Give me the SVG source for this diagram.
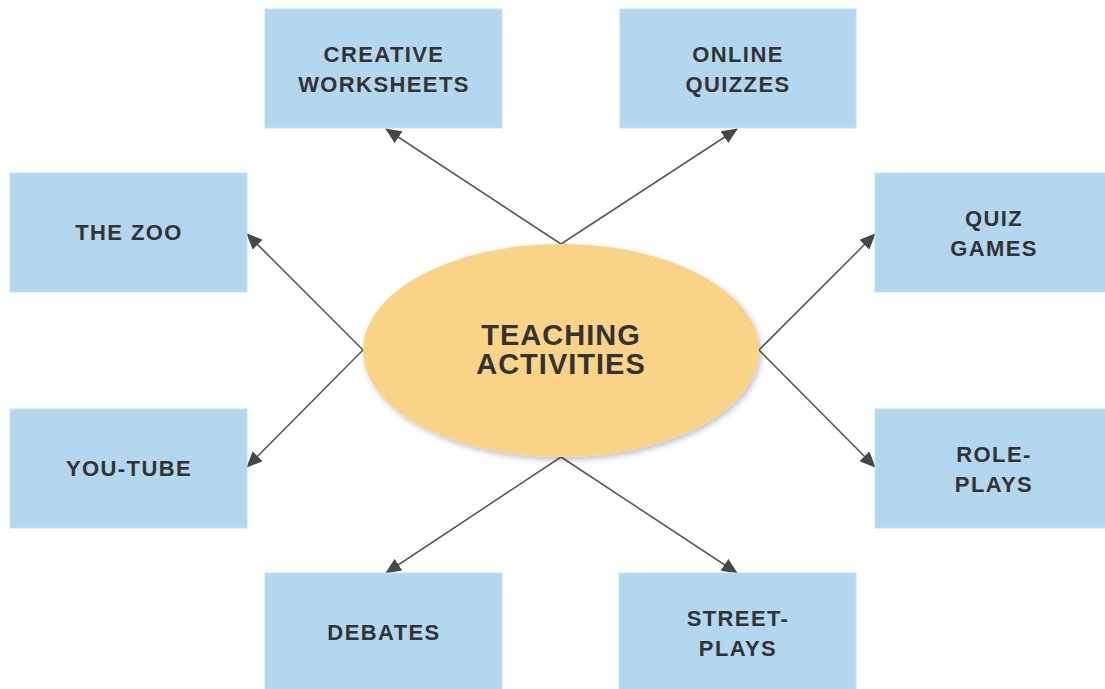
<svg xmlns="http://www.w3.org/2000/svg" width="1105" height="689" viewBox="0 0 1105 689">
<defs>
<style>
.box{fill:#b3d7ee;stroke:#c4e0f3;stroke-width:1}
.lbl{font-family:"Liberation Sans",Arial,sans-serif;font-weight:bold;font-size:22px;letter-spacing:1.4px;fill:#333;text-anchor:middle}
.big{font-size:29px;letter-spacing:1px}
.conn{stroke:#5a5a5a;stroke-width:1.6;fill:none;marker-end:url(#arr)}
</style>
<marker id="arr" markerUnits="userSpaceOnUse" markerWidth="16" markerHeight="14" viewBox="0 0 16 14" refX="15" refY="7" orient="auto">
<path d="M0,0 L16,7 L0,14 Z" fill="#474747"/>
</marker>
<filter id="sh" x="-10%" y="-10%" width="125%" height="130%">
<feGaussianBlur in="SourceAlpha" stdDeviation="3"/>
<feOffset dx="2" dy="3" result="b"/>
<feComponentTransfer><feFuncA type="linear" slope="0.25"/></feComponentTransfer>
<feMerge><feMergeNode/><feMergeNode in="SourceGraphic"/></feMerge>
</filter>
</defs>
<rect width="1105" height="689" fill="#fff"/>
<g id="connectors">
<path class="conn" d="M561,244 L386,129"/>
<path class="conn" d="M561,244 L737,129"/>
<path class="conn" d="M363,350 L247,234"/>
<path class="conn" d="M363,350 L247,467"/>
<path class="conn" d="M759,350 L875,234"/>
<path class="conn" d="M759,350 L875,467"/>
<path class="conn" d="M561,457 L386,573"/>
<path class="conn" d="M561,457 L737,573"/>
</g>
<g id="center">
<ellipse cx="561" cy="350.5" rx="198" ry="106.5" fill="#f9d387" filter="url(#sh)"/>
<text class="lbl big" x="561" y="345">TEACHING</text>
<text class="lbl big" x="561" y="374">ACTIVITIES</text>
</g>
<g id="creative-worksheets">
<rect class="box" x="265" y="9" width="237" height="119"/>
<text class="lbl" x="384" y="62">CREATIVE</text>
<text class="lbl" x="384" y="92">WORKSHEETS</text>
</g>
<g id="online-quizzes">
<rect class="box" x="620" y="9" width="236" height="119"/>
<text class="lbl" x="738" y="62">ONLINE</text>
<text class="lbl" x="738" y="92">QUIZZES</text>
</g>
<g id="the-zoo">
<rect class="box" x="10" y="173" width="237" height="119"/>
<text class="lbl" x="129" y="240">THE ZOO</text>
</g>
<g id="quiz-games">
<rect class="box" x="875" y="173" width="237" height="119"/>
<text class="lbl" x="994" y="226">QUIZ</text>
<text class="lbl" x="994" y="256">GAMES</text>
</g>
<g id="you-tube">
<rect class="box" x="10" y="409" width="237" height="119"/>
<text class="lbl" x="129" y="476">YOU-TUBE</text>
</g>
<g id="role-plays">
<rect class="box" x="875" y="409" width="237" height="119"/>
<text class="lbl" x="994" y="462">ROLE-</text>
<text class="lbl" x="994" y="492">PLAYS</text>
</g>
<g id="debates">
<rect class="box" x="265" y="573" width="237" height="125"/>
<text class="lbl" x="384" y="640">DEBATES</text>
</g>
<g id="street-plays">
<rect class="box" x="619" y="573" width="237" height="125"/>
<text class="lbl" x="738" y="626">STREET-</text>
<text class="lbl" x="738" y="656">PLAYS</text>
</g>
</svg>
